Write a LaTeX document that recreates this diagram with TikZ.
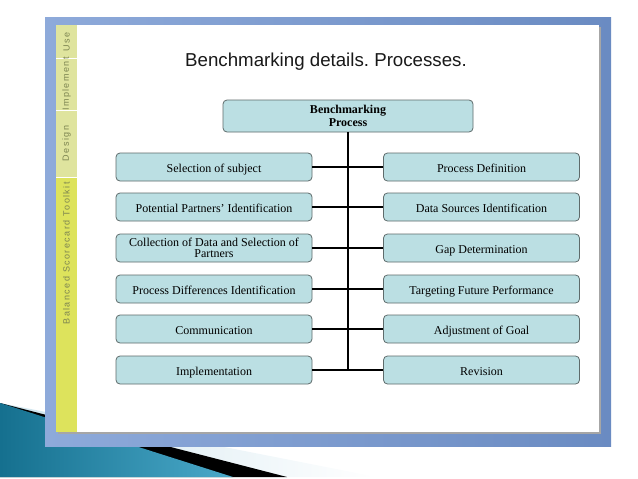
\documentclass[tikz,border=0pt]{standalone}
\usepackage{fontspec}
\setmainfont{Liberation Serif}
\setsansfont{Liberation Sans}
\usetikzlibrary{positioning}
\frenchspacing
\definecolor{boxfill}{HTML}{BBDFE3}
\definecolor{boxline}{HTML}{5E6B6B}
\definecolor{frameblue}{HTML}{6A8BC2}
\definecolor{framelight}{HTML}{8EAADA}
\definecolor{barpale}{HTML}{DFE49E}
\definecolor{baryellow}{HTML}{DDE35C}
\definecolor{bartext}{HTML}{7C8450}
\definecolor{swooshdark}{HTML}{15708F}
\definecolor{swooshlight}{HTML}{4AA9C9}
\definecolor{swooshpale}{HTML}{CFE5EE}
\tikzset{
    stepbox/.style={draw=boxline, line width=0.8pt, rounded corners=4pt, fill=boxfill, minimum width=196pt, minimum height=28pt, align=center, font=\fontsize{12}{11.5}\selectfont, inner sep=1pt},
    onebox/.style={stepbox, text height=12.5pt, text depth=1pt},
    rootbox/.style={stepbox, minimum width=250pt, minimum height=32pt, font=\bfseries\fontsize{12}{12.5}\selectfont},
    trunk/.style={line width=2.4pt},
    branch/.style={line width=1.5pt},
    tab/.style={rotate=90, font=\sffamily\fontsize{9}{10}\selectfont\addfontfeature{LetterSpace=16}, text=bartext, inner sep=0pt},
}

\begin{document}
\begin{tikzpicture}[x=1pt, y=-1pt]
    \useasboundingbox (0,0) rectangle (638,479);
    % background swoosh
    \shade[left color=swooshpale, right color=white] (0,403) -- (377,477) -- (0,477) -- cycle;
    \fill[black] (0,403) -- (287,477) -- (0,477) -- cycle;
    \shade[left color=swooshdark, right color=swooshlight] (0,403) -- (233,477) -- (0,477) -- cycle;
    % slide frame
    \shade[left color=framelight, right color=frameblue] (45,17) rectangle (611,446);
    \fill[black!35] (58,27) rectangle (601,434);
    \fill[white] (56,25) rectangle (599,432);
    % side tabs
    \fill[barpale] (56,25) rectangle (77,177);
    \fill[baryellow] (56,177) rectangle (77,432);
    \draw[white, line width=1pt] (56,58) -- (77,58) (56,110) -- (77,110) (56,177) -- (77,177);
    \node[tab] (use) at (66.5,42) {Use};
    \node[tab] (impl) at (66.5,84) {Implement};
    \node[tab] (design) at (66.5,143.5) {Design};
    \node[tab, anchor=east] (kit) at (66.5,182) {Balanced Scorecard Toolkit};
    % title
    \node[font=\sffamily\fontsize{18.7}{22}\selectfont, text=black!90] (title) at (326,62) {Benchmarking details. Processes.};

    \node[rootbox] (root) at (348,116) {Benchmarking\\Process};

    \node[onebox] (l1) at (214,167) {Selection of subject};
    \node[onebox] (l2) at (214,207) {Potential Partners' Identification};
    \node[stepbox] (l3) at (214,248) {Collection of Data and Selection of\\Partners};
    \node[onebox] (l4) at (214,289) {Process Differences Identification};
    \node[onebox] (l5) at (214,329) {Communication};
    \node[onebox] (l6) at (214,370) {Implementation};

    \node[onebox] (r1) at (481.5,167) {Process Definition};
    \node[onebox] (r2) at (481.5,207) {Data Sources Identification};
    \node[onebox] (r3) at (481.5,248) {Gap Determination};
    \node[onebox] (r4) at (481.5,289) {Targeting Future Performance};
    \node[onebox] (r5) at (481.5,329) {Adjustment of Goal};
    \node[onebox] (r6) at (481.5,370) {Revision};

    \draw[trunk] (root.south) -- (root.south |- l6.east);
    \foreach \i in {1,...,6}
        \draw[branch] (l\i.east) -- (r\i.west);
\end{tikzpicture}
\end{document}
